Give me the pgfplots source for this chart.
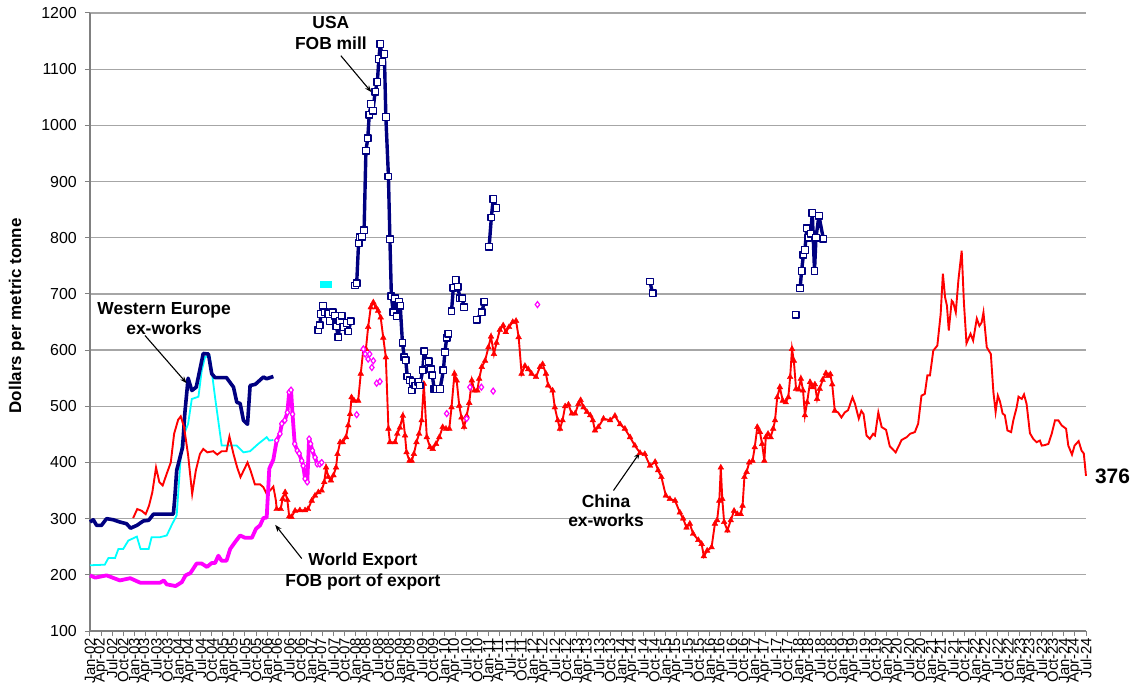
\documentclass[border=0pt]{standalone}
\usepackage{fontspec}
\setmainfont{Liberation Sans}
\usepackage{pgfplots}
\pgfplotsset{compat=1.18}
\usetikzlibrary{arrows.meta}
\definecolor{navyc}{HTML}{000080}
\definecolor{cyanc}{HTML}{00FFFF}
\definecolor{magc}{HTML}{FF00FF}
\definecolor{redc}{HTML}{FF0000}
\definecolor{gridc}{HTML}{A6A6A6}
\definecolor{axisc}{HTML}{808080}
\begin{document}
\begin{tikzpicture}
\begin{axis}[
 scale only axis, width=996bp, height=618bp,
 xmin=0, xmax=270, ymin=100, ymax=1200,
 axis lines=left, axis line style={-, draw=axisc, line width=1.3bp},
 ytick={100,200,...,1200},
 xtick={0,3,...,270},
 xticklabels={Jan-02,Apr-02,Jul-02,Oct-02,Jan-03,Apr-03,Jul-03,Oct-03,Jan-04,Apr-04,Jul-04,Oct-04,Jan-05,Apr-05,Jul-05,Oct-05,Jan-06,Apr-06,Jul-06,Oct-06,Jan-07,Apr-07,Jul-07,Oct-07,Jan-08,Apr-08,Jul-08,Oct-08,Jan-09,Apr-09,Jul-09,Oct-09,Jan-10,Apr-10,Jul-10,Oct-10,Jan-11,Apr-11,Jul-11,Oct-11,Jan-12,Apr-12,Jul-12,Oct-12,Jan-13,Apr-13,Jul-13,Oct-13,Jan-14,Apr-14,Jul-14,Oct-14,Jan-15,Apr-15,Jul-15,Oct-15,Jan-16,Apr-16,Jul-16,Oct-16,Jan-17,Apr-17,Jul-17,Oct-17,Jan-18,Apr-18,Jul-18,Oct-18,Jan-19,Apr-19,Jul-19,Oct-19,Jan-20,Apr-20,Jul-20,Oct-20,Jan-21,Apr-21,Jul-21,Oct-21,Jan-22,Apr-22,Jul-22,Oct-22,Jan-23,Apr-23,Jul-23,Oct-23,Jan-24,Apr-24,Jul-24},
 tick align=outside, major tick length=5bp,
 tick style={draw=axisc, line width=1bp},
 ymajorgrids, grid style={draw=gridc, line width=1.3bp},
 /pgf/number format/assume math mode=true,
 /pgf/number format/1000 sep={},
 yticklabel style={font=\fontsize{16}{18}\selectfont, inner sep=2bp, xshift=-6bp},
 xticklabel style={font=\fontsize{15}{17}\selectfont, rotate=90, anchor=east, inner sep=1.5bp},
 ylabel={Dollars per metric tonne},
 ylabel style={font=\fontsize{17}{19}\selectfont\bfseries, at={(axis description cs:-0.0735,0.51)}, anchor=center},
 clip=false,
 unbounded coords=jump,
]
\coordinate (BL) at (rel axis cs:0,0);
\coordinate (TR) at (rel axis cs:1,1);
% Cyan line
\addplot[cyanc, line width=1.8bp] coordinates {(0,217)(4,218)(5,230)(6.8,230)(7.7,246)(9,246)(10.4,261)(12.7,268)(13.7,246)(15.9,246)(16.7,267)(19,267)(20.8,270)(22.1,288)(23.5,306)(24.9,439)(26.6,469)(27.6,513)(29.4,517)(30.3,564)(31.2,588)(32.5,588)(33.9,516)(35.7,430)(39.8,430)(41.6,418)(43.4,420)(45.6,433)(47.9,445)(48.6,439)(49.7,440)};
% Cyan markers
\addplot[cyanc, line width=2bp, mark=square*, mark size=3bp, mark options={fill=cyanc, draw=cyanc, line width=0.5bp}] coordinates {(63.1,717)(63.8,718)(64.5,717)};
% Western Europe
\addplot[navyc, line width=3.6bp, line join=round] coordinates {(0,294)(0.9,298)(1.8,288)(3.1,288)(4.5,300)(6.3,298)(8.1,294)(9.9,291)(11,283)(12.7,288)(14.5,296)(15.9,297)(17.2,308)(22.6,308)(23,338)(23.5,386)(25.1,427)(25.7,487)(26.6,550)(27.6,528)(28.8,534)(30.7,594)(32.1,593)(33,558)(33.9,551)(37,551)(38.9,534)(39.8,507)(40.7,505)(41.6,475)(42.7,468)(43.4,537)(44.8,539)(47,552)(47.9,549)(49.7,553)};
% China thin early
\addplot[redc, line width=1.9bp] coordinates {(11.7,301)(12.8,317)(14,314)(15.1,308)(16,323)(16.9,347)(17.9,391)(18.8,365)(19.7,359)(20.8,380)(21.9,400)(22.8,451)(23.9,476)(24.6,482)(25.5,463)(26.6,413)(27.7,344)(28.7,386)(29.8,415)(30.7,424)(31.8,418)(33.4,420)(34.5,414)(35.7,420)(37,420)(37.8,446)(38.9,415)(39.9,391)(40.8,374)(42.7,400)(43.5,386)(44.7,361)(46.1,361)(47,356)(47.9,344)(48.8,350)(49.7,357)(50.4,332)(50.6,317)};
% World export thick
\addplot[magc, line width=3.8bp, line join=round] coordinates {(0,199)(1.4,195)(4.5,199)(8.1,190)(10.9,194)(13.6,186)(19,186)(20,190)(20.8,183)(23.2,180)(24.9,187)(25.9,199)(27.2,203)(28.9,220)(30.3,220)(31.7,214)(33,221)(33.9,221)(34.8,234)(35.7,225)(37,225)(38,246)(39.3,258)(40.7,270)(42,266)(43.9,266)(45,282)(46.1,288)(47,301)(47.9,302)(48.6,389)(49.7,405)(50.6,439)};
\addplot[magc, line width=3.8bp, line join=round, mark=diamond*, mark size=3bp, mark options={fill=white, draw=magc, line width=1.2bp}] coordinates {(50.6,439)(51.5,451)(52,469)(52.8,475)(53.5,489)(54,525)(54.5,529)(54.9,486)(55.5,433)(56.2,421)(56.7,416)(57.4,403)(57.8,394)(58.3,371)(58.9,365)(59.4,442)(59.8,433)(60.3,421)(61,409)(61.6,397)(62.3,397)(62.8,400)};
% China triangles
\addplot[redc, line width=1.9bp, mark=triangle*, mark size=3.3bp, mark options={fill=redc, draw=redc, line width=0.4bp}] coordinates {(50.6,317)(51.7,317)(52.2,335)(52.9,347)(53.5,333)(54,304)(54.6,303)(55.6,314)(56.9,315)(58.3,315)(59.1,317)(60.1,332)(61,341)(61.9,347)(62.8,350)(63.5,365)(64,391)(64.6,374)(65.3,368)(66,377)(66.7,391)(67.1,415)(67.8,436)(68.5,436)(69.4,445)(70,466)(70.5,486)(70.9,516)(71.6,510)(72.7,510)(73.4,558)(74.1,602)(74.8,602)(75.4,641)(76.1,676)(76.8,685)(77.5,676)(78.1,670)(78.8,658)(79.5,622)(80.2,587)(80.9,460)(81.3,436)(82.7,436)(83.3,451)(84,462)(84.8,483)(85.4,448)(85.8,418)(86.6,403)(87.2,403)(87.8,415)(88.5,436)(89.2,451)(89.9,475)(90.5,540)(91.3,445)(92.2,427)(92.9,424)(93.8,433)(94.7,445)(95.6,463)(96.5,460)(97.4,460)(98,498)(98.8,558)(99.4,546)(100.1,501)(100.7,480)(101.4,463)(102.1,483)(102.8,506)(103.5,546)(104.2,528)(105,528)(105.5,549)(106.2,570)(107.1,581)(108,605)(108.7,624)(109.5,593)(110.2,613)(111.1,636)(112,644)(112.7,632)(113.6,641)(114.6,650)(115.5,652)(116.2,623)(117,558)(117.9,572)(118.8,566)(119.7,558)(120.9,552)(122,570)(122.7,575)(123.6,558)(124.2,537)(125.4,528)(126,498)(126.8,475)(127.4,460)(128.1,475)(128.8,500)(129.7,503)(130.6,487)(131.5,487)(132.4,504)(133,511)(133.8,498)(134.7,490)(135.6,484)(136.3,475)(136.9,457)(137.8,463)(139.2,478)(141,475)(142.3,483)(143.7,468)(145,460)(146.4,445)(147.7,430)(149.1,417)(150.4,415)(151.8,394)(153.2,401)(154,386)(154.9,374)(156.1,341)(157.2,335)(158.6,332)(159.9,311)(160.8,300)(161.7,284)(162.6,291)(163.5,273)(164.9,262)(165.8,255)(166.4,233)(167.3,243)(168.5,249)(169.4,291)(170,297)(170.6,332)(171,391)(171.4,335)(171.9,294)(172.8,279)(173.7,297)(174.6,314)(175.5,308)(176.4,308)(176.9,323)(177.4,374)(178,383)(178.7,400)(179.6,403)(180.2,427)(180.9,463)(181.6,454)(182.2,433)(182.8,403)(183.2,445)(183.8,451)(184.5,445)(185.2,460)(185.7,475)(186.3,516)(187,534)(187.8,510)(188.6,507)(189.3,516)(189.8,552)(190.3,602)(190.8,581)(191.4,531)(192.1,530)(192.7,549)(193.3,528)(193.8,484)(194.4,507)(195.2,543)(195.8,534)(196.5,539)(197.1,513)(197.8,531)(198.6,547)(199.5,559)(200.1,554)(200.7,557)(201.2,539)(201.9,492)};
% China thin late
\addplot[redc, line width=1.9bp] coordinates {(201.9,492)(202.8,489)(203.7,480)(204.6,489)(205.5,493)(206.7,516)(207.4,504)(208.4,478)(209.1,492)(209.7,486)(210.5,448)(211.4,442)(212.3,451)(212.8,448)(213.7,489)(214.6,463)(215.8,458)(216.8,429)(218.4,418)(219.3,430)(220,440)(221.4,445)(222.3,451)(223.6,454)(224.5,469)(225.4,519)(226.3,522)(227,555)(227.7,555)(228.6,599)(229.7,608)(230.6,664)(231.2,736)(231.8,694)(232.3,679)(232.8,635)(233.6,688)(234,685)(234.7,667)(235.4,724)(236.3,777)(236.9,685)(237.6,612)(238.7,629)(239.4,617)(240.4,656)(241.1,643)(241.7,649)(242.2,667)(243.1,605)(244.2,593)(244.9,525)(245.5,490)(246.1,519)(246.7,508)(247.4,487)(248,484)(248.7,457)(249.7,454)(250.3,475)(251.2,498)(251.7,517)(252.6,513)(253.2,521)(253.9,504)(254.8,452)(255.7,442)(256.6,436)(257.5,439)(258,430)(258.9,431)(259.8,433)(260.7,451)(261.6,475)(262.5,475)(263.4,466)(264.6,460)(265.2,430)(266.2,414)(266.9,430)(268,438)(268.8,421)(269.4,416)(270,376)};
% World export scattered diamonds
\addplot[only marks, mark=diamond*, mark size=3bp, mark options={fill=white, draw=magc, line width=1.2bp}] coordinates {(72.3,485)(74.1,602)(74.6,593)(75.4,584)(75.8,593)(76.4,569)(76.8,581)(77.7,541)(78.6,544)(96.7,487)(102.1,478)(103,534)(106.1,534)(109.3,527)(121.3,681)};
% USA FOB mill
\addplot[navyc, line width=3.4bp, line join=round, mark=square*, mark size=3.3bp, mark options={fill=white, draw=navyc, line width=1.3bp}] coordinates {(61.9,636)(62.3,644)(62.6,664)(63.2,679)(63.7,667)(64.6,664)(65,652)(65.8,667)(66.4,661)(66.8,642)(67.3,623)(67.8,652)(68.2,661)(68.7,641)(69.6,648)(70,633)(70.7,651)
(71.2,nan)
(71.8,715)(72.3,719)(72.8,790)(73.2,801)(73.7,802)(74.3,813)(74.8,955)(75.3,977)(75.7,1019)(76.2,1038)(76.7,1026)(77.3,1060)(77.9,1077)(78.3,1118)(78.7,1145)(79.3,1113)(79.8,1127)(80.2,1015)(80.9,909)(81.3,797)(81.7,696)(82.2,667)(82.7,692)(83.1,660)(83.8,686)(84.1,679)(84.7,613)(85.2,587)(85.6,582)(86,553)(86.7,546)(87.2,528)(87.6,543)(88.2,537)(89,544)(89.4,537)(90.2,564)(90.6,598)(91.3,578)(91.8,580)(92.4,566)(92.8,555)(93.3,531)(93.9,531)(94.9,531)(95.8,564)(96.2,596)(96.7,622)(97.1,629)
(97.5,nan)
(98,669)(98.5,711)(99.1,725)(99.7,713)(100.3,692)(100.9,692)(101.4,676)
(103,nan)
(104.8,654)(106.2,667)(106.9,686)
(107.5,nan)
(108.2,784)(108.8,836)(109.3,869)(110.2,853)
(130,nan)
(151.8,722)(152.5,701)
(170,nan)
(191.3,663)
(191.9,nan)
(192.5,710)(192.9,741)(193.4,770)(193.8,778)(194.3,817)(194.7,800)(195.4,807)(195.8,844)(196.4,741)(196.8,800)(197.6,839)(198.8,798)};
% Annotations
\node[font=\fontsize{17.5}{21}\selectfont\bfseries, align=center] at (axis cs:65.3,1165) {USA\\FOB mill};
\draw[-{Stealth[length=7bp,width=5bp]}, line width=1.1bp] (axis cs:68.0,1124) -- (axis cs:76.3,1059);
\node[font=\fontsize{17.5}{20}\selectfont\bfseries, align=center] at (axis cs:20.1,656) {Western Europe\\ex-works};
\draw[-{Stealth[length=7bp,width=5bp]}, line width=1.1bp] (axis cs:14.9,626) -- (axis cs:26.2,541);
\node[font=\fontsize{17.5}{21}\selectfont\bfseries, align=center] at (axis cs:74,206) {World Export\\FOB port of export};
\draw[-{Stealth[length=7bp,width=5bp]}, line width=1.1bp] (axis cs:57.4,229) -- (axis cs:50.2,289);
\node[font=\fontsize{17.5}{20}\selectfont\bfseries, align=center] at (axis cs:139.9,314) {China\\ex-works};
\draw[-{Stealth[length=7bp,width=5bp]}, line width=1.1bp] (axis cs:141.9,350) -- (axis cs:149.1,418);
\node[font=\fontsize{21}{24}\selectfont\bfseries] at (axis cs:277.2,375) {376};
\end{axis}
\pgfresetboundingbox
\path[use as bounding box] ([shift={(-90bp,-58bp)}]BL) rectangle ([shift={(52bp,13bp)}]TR);
\end{tikzpicture}
\end{document}
